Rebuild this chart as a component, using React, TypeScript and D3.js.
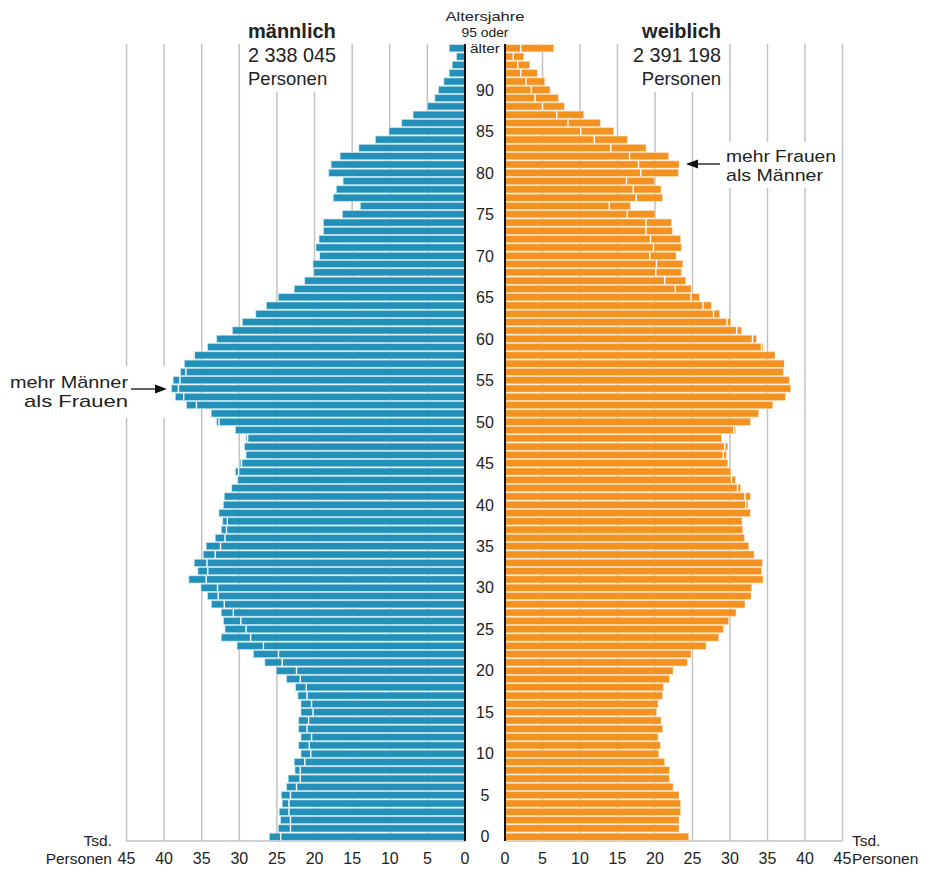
import React from "react";
import * as d3 from "d3";

const ages: number[] = d3.range(0, 96);
const maleValues: number[] = [
  26.0, 24.8, 24.5, 24.7, 24.3, 24.4, 23.7, 23.5, 22.6, 22.7,
  21.8, 22.1, 21.8, 22.1, 22.1, 21.8, 21.8, 22.2, 22.5, 23.7,
  25.1, 26.6, 28.1, 30.3, 32.4, 31.9, 32.1, 32.4, 33.7, 34.2,
  35.1, 36.7, 35.5, 36.0, 34.8, 34.4, 33.2, 32.4, 32.2, 32.7,
  32.1, 32.0, 31.0, 30.2, 30.5, 29.9, 29.1, 29.3, 29.1, 30.5,
  33.0, 33.9, 37.0, 38.5, 39.0, 38.8, 37.8, 37.3, 36.1, 34.2,
  33.0, 30.9, 29.6, 27.8, 26.4, 24.8, 22.7, 21.3, 20.1, 20.2,
  19.3, 19.8, 19.4, 18.8, 18.8, 16.3, 13.9, 17.5, 17.1, 16.2,
  18.1, 17.8, 16.6, 14.1, 11.9, 10.1, 8.4, 6.9, 5.0, 4.0,
  3.5, 2.8, 2.1, 1.7, 1.1, 2.1,
];
const femaleValues: number[] = [
  24.5, 23.2, 23.2, 23.4, 23.4, 23.2, 22.4, 21.9, 21.9, 21.3,
  20.5, 20.7, 20.4, 21.0, 20.8, 20.2, 20.4, 21.0, 21.1, 21.9,
  22.4, 24.3, 24.8, 26.8, 28.5, 29.1, 29.8, 30.8, 32.0, 32.8,
  32.9, 34.4, 34.2, 34.3, 33.2, 32.5, 31.9, 31.7, 31.6, 32.7,
  32.4, 32.7, 31.4, 30.7, 30.1, 29.7, 29.5, 29.7, 28.9, 30.7,
  32.7, 33.8, 35.7, 37.4, 38.1, 37.9, 37.1, 37.4, 36.0, 34.4,
  33.5, 31.5, 30.1, 28.6, 27.5, 25.9, 24.8, 24.1, 23.5, 23.7,
  22.8, 23.5, 23.4, 22.3, 22.2, 20.0, 16.7, 21.0, 20.8, 19.9,
  23.1, 23.2, 21.8, 18.8, 16.3, 14.5, 12.7, 10.5, 7.9, 7.1,
  6.0, 5.3, 4.3, 3.3, 2.5, 6.5,
];
const xTicks: number[] = [0, 5, 10, 15, 20, 25, 30, 35, 40, 45];
const ageTicks: number[] = d3.range(0, 95, 5);

const MALE = "#2290b8";
const FEMALE = "#f39220";
const GRID = "#c2c2c2";
const FONT = "'Liberation Sans', Arial, sans-serif";
const TEXT = "#222";

export default function App() {
  const xM = d3.scaleLinear().domain([0, 45]).range([465, 126.5]);
  const xF = d3.scaleLinear().domain([0, 45]).range([505, 842.5]);
  const y = d3.scaleLinear().domain([0, 95]).range([836.7, 48.3]);
  const barH = 7.1;
  const gridTop = 44;
  const axisY = 841;

  return (
    <svg
      width={925}
      height={871}
      style={{ position: "absolute", left: 0, top: 0, background: "#fff" }}
      fontFamily={FONT}
    >
      {/* grid lines */}
      {xTicks.filter((t) => t > 0).map((t) => (
        <g key={"g" + t}>
          <line x1={xM(t)} x2={xM(t)} y1={gridTop} y2={axisY} stroke={GRID} strokeWidth={1.5} />
          <line x1={xF(t)} x2={xF(t)} y1={gridTop} y2={axisY} stroke={GRID} strokeWidth={1.5} />
        </g>
      ))}
      {/* bottom axis lines */}
      <line x1={xM(45)} x2={xM(0)} y1={axisY} y2={axisY} stroke={GRID} strokeWidth={1.5} />
      <line x1={xF(0)} x2={xF(45)} y1={axisY} y2={axisY} stroke={GRID} strokeWidth={1.5} />

      {/* masks behind texts */}
      <rect x={244} y={10} width={98} height={82} fill="#fff" />
      <rect x={630} y={10} width={96} height={82} fill="#fff" />
      <rect x={722} y={142} width={116} height={46} fill="#fff" />
      <rect x={0} y={366} width={170} height={52} fill="#fff" />

      {/* male bars */}
      {ages.map((a, i) => {
        const v = maleValues[i];
        const o = femaleValues[i];
        return (
          <g key={"m" + a}>
            <rect
              x={xM(v)}
              y={y(a) - barH / 2}
              width={xM(0) - xM(v)}
              height={barH}
              fill={MALE}
              stroke="#bfe0ec"
              strokeWidth={0.6}
            />
            {o < v && (
              <line x1={xM(o)} x2={xM(o)} y1={y(a) - barH / 2} y2={y(a) + barH / 2} stroke="#fff" strokeWidth={1.4} />
            )}
          </g>
        );
      })}
      {/* female bars */}
      {ages.map((a, i) => {
        const v = femaleValues[i];
        const o = maleValues[i];
        return (
          <g key={"f" + a}>
            <rect
              x={xF(0)}
              y={y(a) - barH / 2}
              width={xF(v) - xF(0)}
              height={barH}
              fill={FEMALE}
              stroke="#fbd9b0"
              strokeWidth={0.6}
            />
            {o < v && (
              <line x1={xF(o)} x2={xF(o)} y1={y(a) - barH / 2} y2={y(a) + barH / 2} stroke="#fff" strokeWidth={1.4} />
            )}
          </g>
        );
      })}

      {/* center axis lines */}
      <line x1={xM(0)} x2={xM(0)} y1={gridTop} y2={axisY} stroke="#111" strokeWidth={2} />
      <line x1={xF(0)} x2={xF(0)} y1={gridTop} y2={axisY} stroke="#111" strokeWidth={2} />

      {/* age labels */}
      {ageTicks.map((a) => (
        <text key={"a" + a} x={485} y={y(a)} dy="0.36em" textAnchor="middle" fontSize={16} fill={TEXT}>
          {a}
        </text>
      ))}
      <g fontSize={13.3} fill={TEXT} textAnchor="middle">
        <text x={485} y={21} textLength={79} lengthAdjust="spacingAndGlyphs">Altersjahre</text>
        <text x={485} y={37} textLength={47} lengthAdjust="spacingAndGlyphs">95 oder</text>
        <text x={485} y={52.5} textLength={30} lengthAdjust="spacingAndGlyphs">älter</text>
      </g>

      {/* x tick labels */}
      {xTicks.map((t) => (
        <g key={"t" + t} fontSize={16} fill={TEXT} textAnchor="middle">
          <text x={xM(t)} y={864}>{t}</text>
          <text x={xF(t)} y={864}>{t}</text>
        </g>
      ))}
      <g fontSize={15.5} fill={TEXT}>
        <text x={112} y={846} textAnchor="end">Tsd.</text>
        <text x={112} y={864} textAnchor="end">Personen</text>
        <text x={852} y={846}>Tsd.</text>
        <text x={852} y={864}>Personen</text>
      </g>

      {/* titles */}
      <g fontSize={18.5} fill={TEXT}>
        <text x={248} y={38} fontWeight="bold" fontSize={20}>männlich</text>
        <text x={248} y={62} fontSize={19.8}>2 338 045</text>
        <text x={248} y={85}>Personen</text>
        <text x={721} y={38} fontWeight="bold" fontSize={20} textAnchor="end">weiblich</text>
        <text x={721} y={62} fontSize={19.8} textAnchor="end">2 391 198</text>
        <text x={721} y={85} textAnchor="end">Personen</text>
      </g>

      {/* annotations */}
      <g fontSize={16.2} fill={TEXT}>
        <text x={726} y={162} textLength={110} lengthAdjust="spacingAndGlyphs">mehr Frauen</text>
        <text x={726} y={181} textLength={97} lengthAdjust="spacingAndGlyphs">als Männer</text>
        <text x={128} y={388} textAnchor="end" textLength={118} lengthAdjust="spacingAndGlyphs">mehr Männer</text>
        <text x={128} y={407} textAnchor="end" textLength={104} lengthAdjust="spacingAndGlyphs">als Frauen</text>
      </g>
      <line x1={720} x2={696} y1={164} y2={164} stroke="#111" strokeWidth={1.3} />
      <path d="M686,164 L698,159.5 L698,168.5 Z" fill="#111" />
      <line x1={131} x2={156} y1={389} y2={389} stroke="#111" strokeWidth={1.3} />
      <path d="M167,389 L155,384.5 L155,393.5 Z" fill="#111" />
    </svg>
  );
}
